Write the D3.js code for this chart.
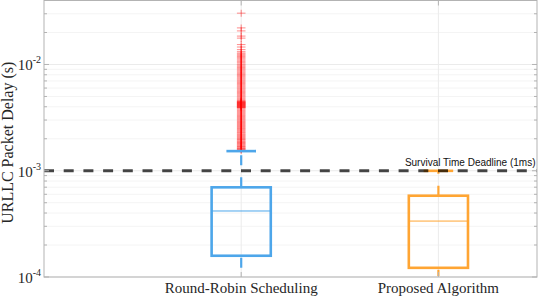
<!DOCTYPE html>
<html>
<head>
<meta charset="utf-8">
<script src="https://cdn.jsdelivr.net/npm/d3@7"></script>
<style>
  body { margin: 0; background: #fff; }
  svg { display: block; }
</style>
</head>
<body>
<div id="chart"></div>
<script>
// categories and box statistics (seconds)
const categories = ["Round-Robin Scheduling", "Proposed Algorithm"];
const colors = ["#4da6ea", "#ffa533"];
const whiskerLow = [1.22e-4, 1.02e-4];
const q1 = [1.585e-4, 1.22e-4];
const median = [4.18e-4, 3.36e-4];
const q3 = [6.98e-4, 5.82e-4];
const whiskerHigh = [1.53e-3, 0.998e-3];

// outliers of the round-robin scheduler (ms)
const rrOutliersMs = [
  1.56, 1.58, 1.60, 1.62, 1.64, 1.67, 1.69, 1.72, 1.75, 1.78, 1.81, 1.84, 1.87, 1.90,
  1.94, 1.97, 2.01, 2.05, 2.09, 2.13, 2.17, 2.21, 2.26, 2.30, 2.35, 2.40, 2.45, 2.50,
  2.55, 2.61, 2.66, 2.72, 2.78, 2.84, 2.90, 2.96, 3.03, 3.10, 3.17, 3.24, 3.31, 3.39,
  3.47, 3.55, 3.63, 3.71, 3.80, 3.89, 3.92, 3.95, 3.98, 4.01, 4.04, 4.07, 4.10, 4.13,
  4.16, 4.19, 4.22, 4.25, 4.28, 4.31, 4.34, 4.37, 4.40, 4.43, 4.46, 4.50, 4.55, 4.62,
  4.72, 4.83, 4.95, 5.07, 5.19, 5.32, 5.45, 5.58, 5.72, 5.86, 6.00, 6.15, 6.30, 6.46,
  6.62, 6.78, 6.95, 7.12, 7.30, 7.48, 7.67, 7.86, 8.06, 8.26, 8.47, 8.69, 8.91, 9.14,
  9.37, 9.61, 9.86, 10.1, 10.4, 10.7, 11.0, 11.3, 11.6, 11.9, 12.2, 12.5, 12.8, 13.2,
  13.8, 14.6, 15.4, 17.7, 18.5, 20.7, 22.1, 30.4
];

const deadline = 1e-3;
const deadlineLabel = "Survival Time Deadline (1ms)";
const yTicks = [1e-4, 1e-3, 1e-2];
const yLabel = "URLLC Packet Delay (s)";

const width = 538, height = 298;
const margin = { top: 0.5, right: 1, bottom: 21, left: 44 };

const svg = d3.select("#chart").append("svg")
  .attr("width", width).attr("height", height);

const x = d3.scaleLinear().domain([0, 2.5]).range([margin.left, width - margin.right]);
const y = d3.scaleLog().domain([1e-4, 4e-2]).range([height - margin.bottom, margin.top]);
const x0 = x.range()[0], x1 = x.range()[1];
const y0 = y.range()[0], y1 = y.range()[1];

// minor tick values 2..9 of each decade
const minor = [];
for (let e = -4; e <= -2; e++) {
  for (let m = 2; m <= 9; m++) {
    const v = m * Math.pow(10, e);
    if (v <= 4e-2) minor.push(v);
  }
}

// grid
const grid = svg.append("g");
grid.selectAll(".minor").data(minor).join("line")
  .attr("x1", x0).attr("x2", x1)
  .attr("y1", d => y(d)).attr("y2", d => y(d))
  .attr("stroke", "#f4f4f4").attr("stroke-width", 1);
grid.selectAll(".major").data(yTicks).join("line")
  .attr("x1", x0).attr("x2", x1)
  .attr("y1", d => y(d)).attr("y2", d => y(d))
  .attr("stroke", "#ebebeb").attr("stroke-width", 1);
grid.selectAll(".vert").data(categories).join("line")
  .attr("x1", (d, i) => x(i + 1)).attr("x2", (d, i) => x(i + 1))
  .attr("y1", y0).attr("y2", y1)
  .attr("stroke", "#ebebeb").attr("stroke-width", 1);

// outliers as '+' markers
const out = svg.append("g")
  .attr("stroke", "#ff0000").attr("stroke-opacity", 0.42).attr("stroke-width", 1.1);
rrOutliersMs.forEach(ms => {
  const cx = x(1), cy = y(ms / 1000);
  out.append("line").attr("x1", cx - 4.3).attr("x2", cx + 4.3)
    .attr("y1", cy).attr("y2", cy);
  out.append("line").attr("x1", cx).attr("x2", cx)
    .attr("y1", cy - 3.5).attr("y2", cy + 3.5);
});

// boxes
const boxW = 0.3, capW = 0.15;
categories.forEach((c, i) => {
  const g = svg.append("g").attr("stroke", colors[i]).attr("fill", "none");
  const cx = i + 1;
  // whiskers (dashed), drawn from the box outwards
  g.append("line")
    .attr("x1", x(cx)).attr("x2", x(cx))
    .attr("y1", y(q3[i])).attr("y2", y(whiskerHigh[i]))
    .attr("stroke-width", 2.2).attr("stroke-dasharray", "10,12");
  g.append("line")
    .attr("x1", x(cx)).attr("x2", x(cx))
    .attr("y1", y(q1[i]) + 2).attr("y2", y(whiskerLow[i]))
    .attr("stroke-width", 2.2).attr("stroke-dasharray", "10,12");
  // upper cap
  g.append("line")
    .attr("x1", x(cx - capW / 2)).attr("x2", x(cx + capW / 2))
    .attr("y1", y(whiskerHigh[i])).attr("y2", y(whiskerHigh[i]))
    .attr("stroke-width", 2.6);
  // box
  g.append("rect")
    .attr("x", x(cx - boxW / 2)).attr("width", x(cx + boxW / 2) - x(cx - boxW / 2))
    .attr("y", y(q3[i])).attr("height", y(q1[i]) - y(q3[i]))
    .attr("stroke-width", 2.6);
  // median
  g.append("line")
    .attr("x1", x(cx - boxW / 2)).attr("x2", x(cx + boxW / 2))
    .attr("y1", y(median[i])).attr("y2", y(median[i]))
    .attr("stroke-width", 1);
});

// deadline
svg.append("line")
  .attr("x1", x0).attr("x2", x1)
  .attr("y1", y(deadline)).attr("y2", y(deadline))
  .attr("stroke", "#000").attr("stroke-opacity", 0.72)
  .attr("stroke-width", 3).attr("stroke-dasharray", "10,9.7");
svg.append("text")
  .attr("x", x1 - 1.5).attr("y", y(deadline) - 4.5)
  .attr("text-anchor", "end")
  .attr("font-family", "Liberation Sans, Arial, sans-serif")
  .attr("font-size", 10).attr("fill", "#111")
  .text(deadlineLabel);

// frame and ticks
const axisColor = "#b3b3b3";
svg.append("rect")
  .attr("x", x0).attr("y", y1).attr("width", x1 - x0).attr("height", y0 - y1)
  .attr("fill", "none").attr("stroke", axisColor).attr("stroke-width", 1);

const ticks = svg.append("g").attr("stroke", axisColor).attr("stroke-width", 1);
[[x0, 1], [x1, -1]].forEach(([xx, dir]) => {
  ticks.selectAll(null).data(yTicks).join("line")
    .attr("x1", xx).attr("x2", xx + dir * 5)
    .attr("y1", d => y(d)).attr("y2", d => y(d));
  ticks.selectAll(null).data(minor).join("line")
    .attr("x1", xx).attr("x2", xx + dir * 3)
    .attr("y1", d => y(d)).attr("y2", d => y(d));
});
categories.forEach((c, i) => {
  ticks.append("line").attr("x1", x(i + 1)).attr("x2", x(i + 1))
    .attr("y1", y1).attr("y2", y1 + 5);
  ticks.append("line").attr("x1", x(i + 1)).attr("x2", x(i + 1))
    .attr("y1", y0).attr("y2", y0 - 5);
});

// y tick labels 10^n
const serif = "Liberation Serif, Times New Roman, serif";
yTicks.forEach(t => {
  const txt = svg.append("text")
    .attr("x", x0 - 3).attr("y", y(t) + 6)
    .attr("text-anchor", "end")
    .attr("font-family", serif).attr("font-size", 15).attr("fill", "#262626");
  txt.append("tspan").text("10");
  txt.append("tspan").attr("font-size", 10).attr("dy", -7)
    .text(String(Math.round(Math.log10(t))));
});

// category labels
svg.selectAll(".cat").data(categories).join("text")
  .attr("x", (d, i) => x(i + 1)).attr("y", 293)
  .attr("text-anchor", "middle")
  .attr("font-family", serif).attr("font-size", 15).attr("fill", "#262626")
  .text(d => d);

// y label
svg.append("text")
  .attr("transform", `translate(12.5,${(y0 + y1) / 2 + 4}) rotate(-90)`)
  .attr("text-anchor", "middle")
  .attr("font-family", serif).attr("font-size", 16).attr("fill", "#262626")
  .text(yLabel);
</script>
</body>
</html>
